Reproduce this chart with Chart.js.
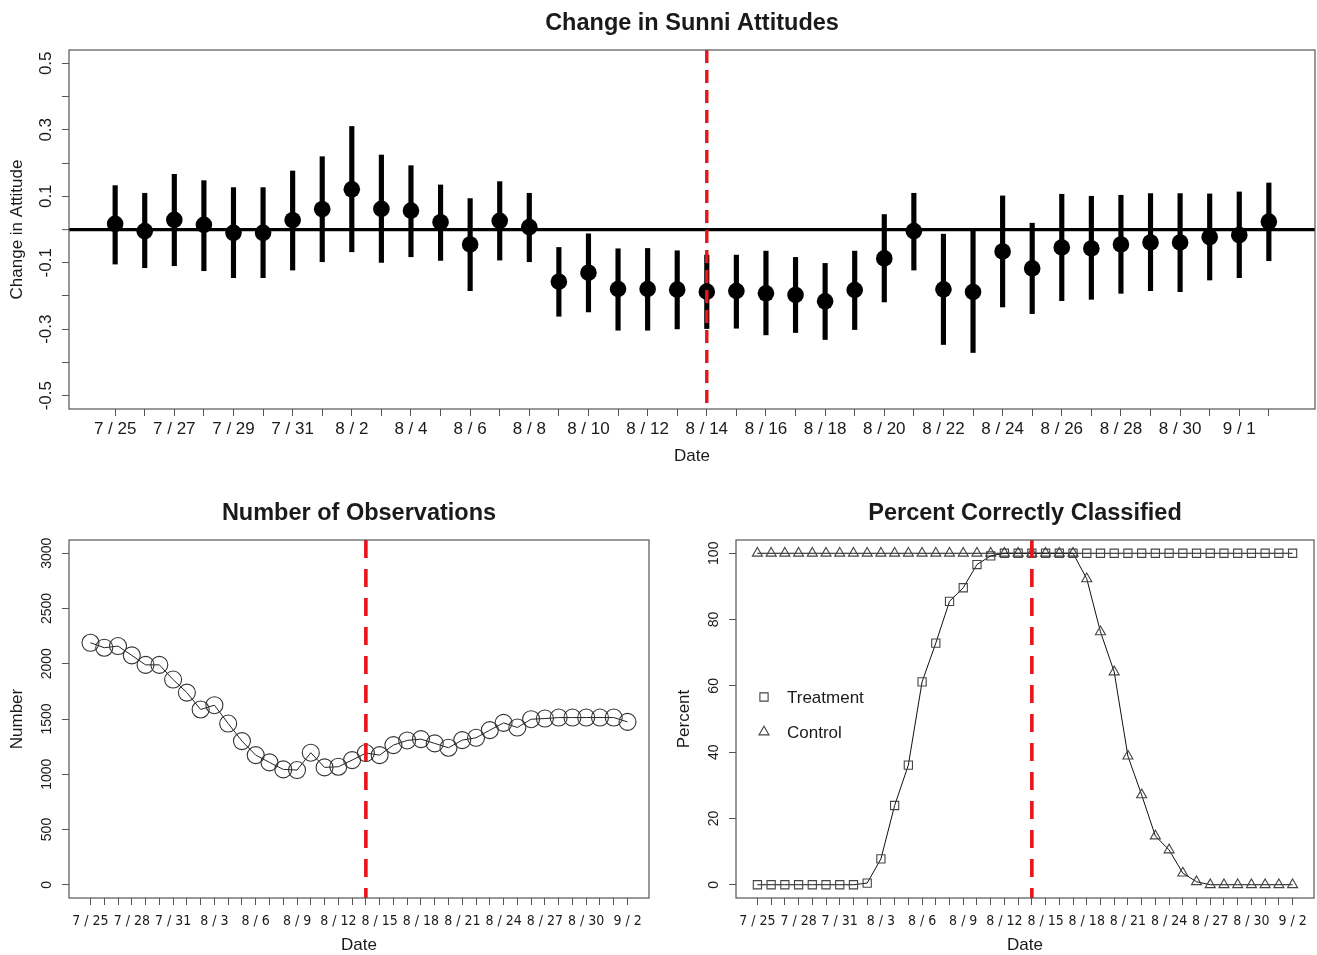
<!DOCTYPE html>
<html>
<head>
<meta charset="utf-8">
<title>Change in Sunni Attitudes</title>
<script src="https://cdn.jsdelivr.net/npm/chart.js@4.4.1/dist/chart.umd.min.js"></script>
<style>
  html, body { margin: 0; padding: 0; background: #fff; }
  body { width: 1317px; height: 955px; position: relative; overflow: hidden; }
  .panel { position: absolute; }
  .panel canvas { display: block; }
</style>
</head>
<body>
<div class="panel" style="left:0;top:0;width:1317px;height:475px"><canvas id="attitudeChart"></canvas></div>
<div class="panel" style="left:0;top:480px;width:660px;height:475px"><canvas id="obsChart"></canvas></div>
<div class="panel" style="left:660px;top:480px;width:657px;height:475px"><canvas id="classChart"></canvas></div>
<script>
// ---- data ----
const dates = [
  "7 / 25", "7 / 26", "7 / 27", "7 / 28", "7 / 29", "7 / 30", "7 / 31",
  "8 / 1", "8 / 2", "8 / 3", "8 / 4", "8 / 5", "8 / 6", "8 / 7", "8 / 8", "8 / 9", "8 / 10",
  "8 / 11", "8 / 12", "8 / 13", "8 / 14", "8 / 15", "8 / 16", "8 / 17", "8 / 18", "8 / 19",
  "8 / 20", "8 / 21", "8 / 22", "8 / 23", "8 / 24", "8 / 25", "8 / 26", "8 / 27", "8 / 28",
  "8 / 29", "8 / 30", "8 / 31", "9 / 1", "9 / 2"
];
const cutoffDate = "8 / 14";

const attitudeMean = [
  0.017, -0.005, 0.029, 0.014, -0.010, -0.010, 0.028, 0.061, 0.121, 0.062, 0.057, 0.022,
  -0.045, 0.026, 0.007, -0.157, -0.130, -0.179, -0.179, -0.181, -0.187, -0.185, -0.192, -0.197, -0.216, -0.182,
  -0.087, -0.005, -0.180, -0.188, -0.066, -0.117, -0.054, -0.057, -0.045, -0.039, -0.039, -0.023, -0.017, 0.024
];
const attitudeUpper = [
  0.132, 0.109, 0.166, 0.147, 0.126, 0.126, 0.176, 0.219, 0.310, 0.224, 0.192, 0.134,
  0.093, 0.144, 0.109, -0.054, -0.013, -0.058, -0.057, -0.064, -0.077, -0.077, -0.065, -0.084, -0.102, -0.065,
  0.045, 0.109, -0.014, -0.002, 0.101, 0.019, 0.106, 0.100, 0.103, 0.108, 0.108, 0.107, 0.113, 0.140
];
const attitudeLower = [
  -0.104, -0.115, -0.109, -0.124, -0.145, -0.145, -0.122, -0.097, -0.067, -0.099, -0.082, -0.093,
  -0.184, -0.092, -0.097, -0.261, -0.248, -0.303, -0.303, -0.299, -0.298, -0.297, -0.317, -0.310, -0.331, -0.301,
  -0.218, -0.122, -0.346, -0.370, -0.233, -0.253, -0.214, -0.210, -0.192, -0.184, -0.187, -0.152, -0.145, -0.094
];
const attitudeTicks = [-0.5, -0.4, -0.3, -0.2, -0.1, 0, 0.1, 0.2, 0.3, 0.4, 0.5];
const attitudeTickLabels = ["-0.5", "", "-0.3", "", "-0.1", "", "0.1", "", "0.3", "", "0.5"];

const observations = [
  2190, 2145, 2160, 2076, 1990, 1990, 1857, 1739, 1586, 1625, 1459, 1300, 1173, 1107, 1044, 1038,
  1195, 1062, 1068, 1128, 1192, 1173, 1264, 1306, 1318, 1279, 1240, 1309, 1330, 1399, 1465, 1423,
  1498, 1504, 1513, 1513, 1513, 1513, 1513, 1474
];
const obsTicks = [0, 500, 1000, 1500, 2000, 2500, 3000];
const obsTickLabels = ["0", "500", "1000", "1500", "2000", "2500", "3000"];

const treatmentPct = [
  0, 0, 0, 0, 0, 0, 0, 0, 0.5, 7.8, 23.9, 36.1, 61.2, 72.9, 85.5, 89.6, 96.6, 99.2,
  100, 100, 100, 100, 100, 100, 100, 100, 100, 100, 100, 100, 100, 100, 100, 100, 100, 100, 100, 100, 100, 100
];
const controlPct = [
  100, 100, 100, 100, 100, 100, 100, 100, 100, 100, 100, 100, 100, 100, 100, 100, 100, 100, 100, 100, 100, 100, 100, 100,
  92.3, 76.3, 64.2, 38.8, 27.1, 14.7, 10.5, 3.5, 0.9, 0, 0, 0, 0, 0, 0, 0
];
const pctTicks = [0, 20, 40, 60, 80, 100];
const pctTickLabels = ["0", "20", "40", "60", "80", "100"];

// ---- styling ----
const FONT = '"Liberation Sans", Arial, Helvetica, sans-serif';
const NARROW = '"Liberation Sans Narrow", "Arial Narrow", "DejaVu Sans Condensed", sans-serif';
const INK = "#1a1a1a";
const FRAME = "#555";
const RED = "#e8131b";

Chart.defaults.font.family = FONT;
Chart.defaults.color = INK;

// R-style plot extras: box, rotated y labels, centred title, cutoff line, legend
const rDecor = {
  id: "rDecor",
  afterDatasetsDraw(chart, args, opts) {
    const { ctx, chartArea: a, scales } = chart;
    ctx.save();

    if (opts.cutoff != null) {
      const x = scales.x.getPixelForValue(opts.cutoff);
      ctx.strokeStyle = RED;
      ctx.lineWidth = opts.cutWidth;
      ctx.setLineDash(opts.dash);
      ctx.beginPath();
      ctx.moveTo(x, a.top);
      ctx.lineTo(x, a.bottom);
      ctx.stroke();
      ctx.setLineDash([]);
    }

    ctx.strokeStyle = FRAME;
    ctx.lineWidth = 1.2;
    ctx.strokeRect(a.left, a.top, a.right - a.left, a.bottom - a.top);

    ctx.fillStyle = INK;
    ctx.textAlign = "center";
    ctx.textBaseline = "middle";
    ctx.font = opts.yTickSize + "px " + FONT;
    scales.y.ticks.forEach((t, i) => {
      const txt = opts.yLabels[i];
      if (!txt) return;
      ctx.save();
      ctx.translate(a.left - opts.yTickGap, scales.y.getPixelForValue(t.value));
      ctx.rotate(-Math.PI / 2);
      ctx.fillText(txt, 0, 0);
      ctx.restore();
    });

    ctx.font = "bold " + opts.titleSize + "px " + FONT;
    ctx.fillText(opts.title, (a.left + a.right) / 2, opts.titleY);

    if (opts.legend) {
      const cy = (a.top + a.bottom) / 2;
      ctx.font = "17px " + FONT;
      ctx.textAlign = "left";
      chart.data.datasets.forEach((ds, i) => {
        const x = a.left + 28, y = cy - 22 + i * 35, r = ds.pointRadius;
        ctx.strokeStyle = ds.pointBorderColor;
        ctx.lineWidth = ds.pointBorderWidth;
        ctx.beginPath();
        if (ds.pointStyle === "rect") {
          const s = Math.SQRT1_2 * r;
          ctx.rect(x - s, y - s, 2 * s, 2 * s);
        } else {
          ctx.moveTo(x, y - r);
          ctx.lineTo(x + r * Math.sin(Math.PI * 2 / 3), y - r * Math.cos(Math.PI * 2 / 3));
          ctx.lineTo(x + r * Math.sin(Math.PI * 4 / 3), y - r * Math.cos(Math.PI * 4 / 3));
          ctx.closePath();
        }
        ctx.stroke();
        ctx.fillStyle = INK;
        ctx.fillText(ds.label, a.left + 51, y + 1);
      });
    }
    ctx.restore();
  }
};

const X_MIN = -0.04 * (dates.length - 1);
const X_MAX = (dates.length - 1) * 1.04;

function xScale(every, tickFont, tickPad, titlePad, height) {
  return {
    type: "linear",
    min: X_MIN,
    max: X_MAX,
    offset: false,
    afterBuildTicks: s => { s.ticks = dates.map((d, i) => ({ value: i })); },
    afterFit: s => {
      s.height = height;
      // plot region is fixed, like R's par(mar)
      s.paddingLeft = 0;
      s.paddingRight = 0;
    },
    ticks: {
      autoSkip: false, maxRotation: 0, minRotation: 0,
      padding: tickPad, font: tickFont, color: INK,
      callback: v => (v % every === 0 ? dates[v] : "")
    },
    grid: { offset: false, drawOnChartArea: false, drawTicks: true, tickLength: 7, tickColor: FRAME, tickWidth: 1 },
    border: { display: false },
    title: { display: true, text: "Date", color: INK, font: { size: 17 }, padding: { top: 0, bottom: titlePad } }
  };
}

function yScale(min, max, ticks, width, text, titlePad, zeroLine) {
  return {
    type: "linear",
    min, max,
    afterBuildTicks: s => { s.ticks = ticks.map(v => ({ value: v })); },
    afterFit: s => {
      s.width = width;
      s.paddingTop = 0;
      s.paddingBottom = 0;
    },
    ticks: { display: false },
    grid: {
      drawOnChartArea: !!zeroLine,
      drawTicks: true, tickLength: 7, tickColor: FRAME, tickWidth: 1,
      color: c => (zeroLine && Math.abs(c.tick.value) < 1e-9 ? "#000" : "rgba(0,0,0,0)"),
      lineWidth: c => (zeroLine && Math.abs(c.tick.value) < 1e-9 ? 3.2 : 1)
    },
    border: { display: false },
    title: { display: true, text, color: INK, font: { size: 17 }, padding: { top: titlePad, bottom: 0 } }
  };
}

const common = {
  responsive: true,
  maintainAspectRatio: false,
  animation: false,
  events: [],
  plugins: { legend: { display: false }, tooltip: { enabled: false } }
};

// big markers would otherwise widen the right margin
function layoutPad(top, right) {
  return { autoPadding: false, padding: { left: 0, top, right, bottom: 0 } };
}

const cutIdx = dates.indexOf(cutoffDate);

// ---- top: change in attitudes ----
new Chart(document.getElementById("attitudeChart"), {
  type: "bar",
  data: {
    datasets: [
      {
        type: "line",
        label: "Change in Attitude",
        data: dates.map((d, i) => ({ x: i, y: attitudeMean[i] })),
        showLine: false,
        pointRadius: 8.3,
        pointBackgroundColor: "#000",
        pointBorderWidth: 0,
        order: 0
      },
      {
        type: "bar",
        label: "Interval",
        data: dates.map((d, i) => ({ x: i, y: [attitudeLower[i], attitudeUpper[i]] })),
        backgroundColor: "#000",
        borderWidth: 0,
        barThickness: 4.5,
        grouped: false,
        order: 1
      }
    ]
  },
  options: {
    ...common,
    layout: layoutPad(50, 2),
    scales: {
      x: xScale(2, { size: 17 }, 3, 8, 66),
      y: yScale(-0.54, 0.54, attitudeTicks, 69, "Change in Attitude", 7, true)
    },
    plugins: {
      ...common.plugins,
      rDecor: {
        title: "Change in Sunni Attitudes", titleY: 23.5, titleSize: 23.5,
        yLabels: attitudeTickLabels, yTickSize: 17, yTickGap: 23,
        cutoff: cutIdx, cutWidth: 3.4, dash: [13, 7]
      }
    }
  },
  plugins: [rDecor]
});

// ---- bottom left: number of observations ----
new Chart(document.getElementById("obsChart"), {
  type: "line",
  data: {
    datasets: [{
      label: "Number",
      data: dates.map((d, i) => ({ x: i, y: observations[i] })),
      borderColor: "#222",
      borderWidth: 1,
      tension: 0,
      fill: false,
      pointRadius: 8.5,
      pointBorderColor: "#333",
      pointBorderWidth: 1.1,
      pointBackgroundColor: "rgba(0,0,0,0)"
    }]
  },
  options: {
    ...common,
    layout: layoutPad(60, 11),
    scales: {
      x: xScale(3, { size: 14, family: NARROW }, 7.6, -1, 57),
      y: yScale(-120, 3120, obsTicks, 69, "Number", 7, false)
    },
    plugins: {
      ...common.plugins,
      rDecor: {
        title: "Number of Observations", titleY: 33.5, titleSize: 23.5,
        yLabels: obsTickLabels, yTickSize: 14, yTickGap: 22,
        cutoff: cutIdx, cutWidth: 3.6, dash: [18, 11]
      }
    }
  },
  plugins: [rDecor]
});

// ---- bottom right: percent correctly classified ----
const markerStyle = {
  borderColor: "#111",
  borderWidth: 1,
  tension: 0,
  fill: false,
  pointRadius: 5.8,
  pointBorderColor: "#444",
  pointBorderWidth: 1.1,
  pointBackgroundColor: "rgba(0,0,0,0)"
};
new Chart(document.getElementById("classChart"), {
  type: "line",
  data: {
    datasets: [
      { ...markerStyle, label: "Treatment", pointStyle: "rect",
        data: dates.map((d, i) => ({ x: i, y: treatmentPct[i] })) },
      { ...markerStyle, label: "Control", pointStyle: "triangle",
        data: dates.map((d, i) => ({ x: i, y: controlPct[i] })) }
    ]
  },
  options: {
    ...common,
    layout: layoutPad(60, 3),
    scales: {
      x: xScale(3, { size: 14, family: NARROW }, 7.6, -1, 57),
      y: yScale(-4, 104, pctTicks, 76, "Percent", 14, false)
    },
    plugins: {
      ...common.plugins,
      rDecor: {
        title: "Percent Correctly Classified", titleY: 33.5, titleSize: 23.5,
        yLabels: pctTickLabels, yTickSize: 14, yTickGap: 22,
        cutoff: cutIdx, cutWidth: 3.6, dash: [18, 11], legend: true
      }
    }
  },
  plugins: [rDecor]
});
</script>
</body>
</html>
